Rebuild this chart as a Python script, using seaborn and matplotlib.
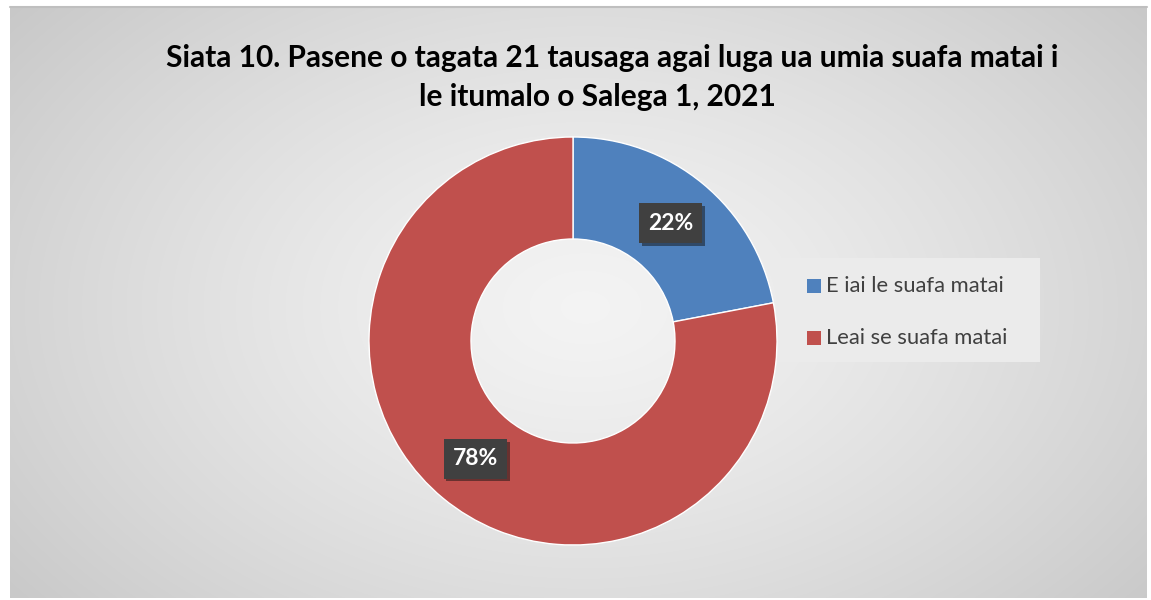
import numpy as np
import matplotlib
matplotlib.use("Agg")
import matplotlib.pyplot as plt
import matplotlib.patheffects as pe
import seaborn as sns

title_lines = ["Siata 10. Pasene o tagata 21 tausaga agai luga ua umia suafa matai i",
               "le itumalo o Salega 1, 2021"]
categories = ["E iai le suafa matai", "Leai se suafa matai"]
values = [22, 78]
colors = ["#4f81bd", "#c0504d"]

sns.set_theme(style="white")
plt.rcParams['font.family'] = ['Lato', 'DejaVu Sans']

W, H = 1151, 600
fig = plt.figure(figsize=(W / 100, H / 100), dpi=100)
fig.patch.set_facecolor("white")

# background panel with radial gradient
bx0, by0, bx1, by1 = 10, 7, 1147, 598
bg = fig.add_axes([bx0 / W, 1 - by1 / H, (bx1 - bx0) / W, (by1 - by0) / H])
yy, xx = np.mgrid[0:591, 0:1137]
cx, cy = 575, 300
d = np.sqrt(((xx - cx) / 640.0) ** 2 + ((yy - cy) / 420.0) ** 2)
d = np.clip(d / 1.25, 0, 1)
val = 0.955 - 0.19 * d ** 1.3
img = np.dstack([val, val, val])
bg.imshow(img, aspect="auto", interpolation="bilinear")
bg.set_axis_off()
fig.add_artist(plt.Line2D([bx0 / W, bx1 / W], [1 - by0 / H, 1 - by0 / H], color="#bfbfbf", lw=1.5))

# donut
r = 204
pcx, pcy = 573, 341
ax = fig.add_axes([(pcx - r) / W, (H - pcy - r) / H, 2 * r / W, 2 * r / H])
wedges, texts, autotexts = ax.pie(
    values, colors=colors, startangle=90, counterclock=False,
    radius=1, autopct="%d%%", pctdistance=0.75,
    wedgeprops=dict(width=0.5, edgecolor="white", linewidth=1),
    textprops=dict(color="white", fontsize=16.5, fontweight="bold"))
ax.set_xlim(-1, 1)
ax.set_ylim(-1, 1)
ax.set_axis_off()
for t in autotexts:
    t.set_bbox(dict(boxstyle="square,pad=0.4", facecolor="#404040", edgecolor="none"))
    t.get_bbox_patch().set_path_effects([pe.SimplePatchShadow(offset=(2, -2), alpha=0.5), pe.Normal()])

# title
fig.text(612 / W, 1 - 58 / H, title_lines[0], ha="center", va="center",
         fontsize=21.5, fontweight="bold", color="black")
fig.text(597 / W, 1 - 97 / H, title_lines[1], ha="center", va="center",
         fontsize=21.5, fontweight="bold", color="black")

# legend
lx0, ly0, lx1, ly1 = 778, 258, 1040, 362
fig.add_artist(plt.Rectangle((lx0 / W, 1 - ly1 / H), (lx1 - lx0) / W, (ly1 - ly0) / H,
                             transform=fig.transFigure, facecolor="#ebebeb", edgecolor="none"))
for i, (lab, c) in enumerate(zip(categories, colors)):
    ycen = 286 + i * 52
    fig.add_artist(plt.Rectangle((807 / W, 1 - (ycen + 7) / H), 14 / W, 14 / H,
                                 transform=fig.transFigure, facecolor=c, edgecolor="none"))
    fig.text(826 / W, 1 - ycen / H, lab, ha="left", va="center", fontsize=15.8, color="#404040")

fig.savefig("out.png", dpi=100)
